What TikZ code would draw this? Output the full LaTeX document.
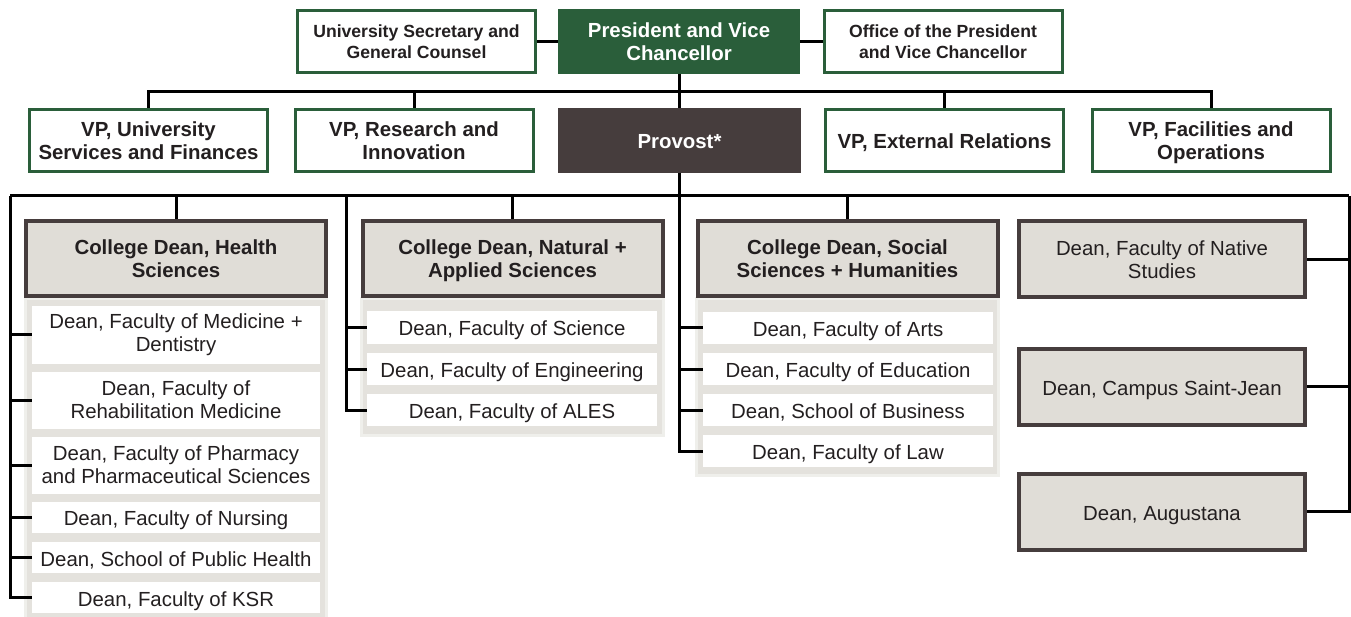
\documentclass[tikz,border=0pt]{standalone}
\usepackage{fontspec}
\setmainfont{Liberation Sans}
\usetikzlibrary{positioning}
\usetikzlibrary{calc}

\definecolor{uagreen}{HTML}{2A5E3A}
\definecolor{provgrey}{HTML}{463D3D}
\definecolor{deanfill}{HTML}{E0DDD7}
\definecolor{panelfill}{HTML}{E4E2DD}
\definecolor{paneledge}{HTML}{EFEFEB}
\definecolor{txt}{HTML}{231F20}

\tikzset{
  conn/.style={line width=3pt, black},
  oneline/.style={text height=17pt, text depth=0pt},
  nodepth/.style={text depth=0pt},
  vpbox/.style={draw=uagreen, line width=3pt, fill=white, text=txt, minimum width=238pt, minimum height=62pt,
     inner sep=0pt, align=center, font=\fontsize{20.4}{23}\selectfont\bfseries},
  smallvp/.style={vpbox, font=\fontsize{17.6}{21}\selectfont\bfseries},
  presbox/.style={vpbox, fill=uagreen, text=white},
  provbox/.style={vpbox, draw=provgrey, fill=provgrey, text=white},
  deanbox/.style={draw=provgrey, line width=4pt, fill=deanfill, text=txt, minimum width=300pt, minimum height=75pt,
     inner sep=0pt, align=center, font=\fontsize{20.4}{23}\selectfont\bfseries},
  otherdean/.style={deanbox, minimum width=286pt, minimum height=76pt, font=\fontsize{20.4}{23}\selectfont},
  subbox/.style={fill=white, text=txt, inner sep=0pt, align=center, font=\fontsize{20.4}{23}\selectfont},
}

\begin{document}
\begin{tikzpicture}[x=1pt,y=-1pt]
  \useasboundingbox (0,0) rectangle (1351,617);

  %top row
  \node[smallvp] (sec) at (416.5,42) {University Secretary and\\General Counsel};
  \node[presbox, minimum width=239pt] (pres) at (679,42) {President and Vice\\Chancellor};
  \node[smallvp] (office) at (943,42) {Office of the President\\and Vice Chancellor};

  %vp row
  \def\vy{140.5};
  \node[vpbox] (vpusf) at (148.5,\vy) {VP, University\\Services and Finances};
  \node[vpbox] (vpri) at (414,\vy) {VP, Research and\\Innovation};
  \node[provbox, oneline, minimum width=240pt] (prov) at (679.5,\vy) {Provost*};
  \node[vpbox, oneline] (vper) at (944.5,\vy) {VP, External Relations};
  \node[vpbox, nodepth] (vpfo) at (1211,\vy) {VP, Facilities and\\Operations};

  \coordinate (topbus) at (679,92);
  \coordinate (lbus) at (10,196);
  \coordinate (rbus) at (1349,196);
  \coordinate (nspine) at (346,196);

  \draw[conn] (sec.east) -- (pres.west);
  \draw[conn] (pres.east) -- (office.west);
  \draw[conn] (pres.south) -- (pres.south |- prov.north);
  \draw[conn] (vpusf.north) -- (vpusf.north |- topbus) -- (vpfo.north |- topbus) -- (vpfo.north);
  \draw[conn] (vpri.north) -- (vpri.north |- topbus);
  \draw[conn] (vper.north) -- (vper.north |- topbus);
  \draw[conn] (prov.south) -- (prov.south |- lbus);
  \draw[conn] (lbus) -- (rbus);

  %panels behind the faculties
  \draw[paneledge, fill=panelfill, line width=3pt] (25.5,299) rectangle (326.5,618);
  \draw[paneledge, fill=panelfill, line width=3pt] (361.5,299) rectangle (663.5,435.5);
  \draw[paneledge, fill=panelfill, line width=3pt] (696.5,299) rectangle (998.5,475.5);

  %college deans
  \def\dy{258.5};
  \node[deanbox] (health) at (176,\dy) {College Dean, Health\\Sciences};
  \node[deanbox, nodepth] (natural) at (512.5,\dy) {College Dean, Natural +\\Applied Sciences};
  \node[deanbox] (social) at (847.5,\dy) {College Dean, Social\\Sciences + Humanities};

  %other deans
  \node[otherdean] (native) at (1162,259.5) {Dean, Faculty of Native\\Studies};
  \node[otherdean, oneline] (campus) at (1162,386.5) {Dean, Campus Saint-Jean};
  \node[otherdean, oneline] (aug) at (1162,511.5) {Dean, Augustana};

  %faculties, health
  \foreach \y/\h/\txt/\name in {335/57/{Dean, Faculty of Medicine +\\Dentistry}/med,
      400/57/{Dean, Faculty of\\Rehabilitation Medicine}/rehab,
      465/57/{Dean, Faculty of Pharmacy\\and Pharmaceutical Sciences}/pharm}{
      \node[subbox, minimum width=288pt, minimum height=\h pt] (\name) at (176,\y) {\txt};
      \draw[conn] (\name.west) -- (\name.west -| lbus);
  }
  \foreach \y/\txt/\name in {517/{Dean, Faculty of Nursing}/nurs,
      557.5/{Dean, School of Public Health}/ph,
      597.5/{Dean, Faculty of KSR}/ksr}{
      \node[subbox, oneline, minimum width=288pt, minimum height=31pt] (\name) at (176,\y) {\txt};
      \draw[conn] (\name.west) -- (\name.west -| lbus);
  }

  %faculties, natural
  \foreach \y/\txt/\name in {327.5/{Dean, Faculty of Science}/sci,
      369/{Dean, Faculty of Engineering}/eng,
      410/{Dean, Faculty of ALES}/ales}{
      \node[subbox, oneline, minimum width=290pt, minimum height=32pt] (\name) at (512,\y) {\txt};
      \draw[conn] (\name.west) -- (\name.west -| nspine);
  }

  %faculties, social
  \foreach \y/\txt/\name in {328/{Dean, Faculty of Arts}/arts,
      369/{Dean, Faculty of Education}/edu,
      410/{Dean, School of Business}/bus,
      451/{Dean, Faculty of Law}/law}{
      \node[subbox, oneline, minimum width=290pt, minimum height=32pt] (\name) at (848,\y) {\txt};
      \draw[conn] (\name.west) -- (\name.west -| prov.south);
  }

  %spines
  \draw[conn] (health.north) -- (health.north |- lbus);
  \draw[conn] (natural.north) -- (natural.north |- lbus);
  \draw[conn] (social.north) -- (social.north |- lbus);
  \draw[conn] (lbus) |- (ksr.west);
  \draw[conn] (nspine) |- (ales.west);
  \draw[conn] (prov.south) |- (law.west);
  \draw[conn] (rbus) |- (aug.east);
  \draw[conn] (native.east) -- (native.east -| rbus);
  \draw[conn] (campus.east) -- (campus.east -| rbus);

\end{tikzpicture}
\end{document}
